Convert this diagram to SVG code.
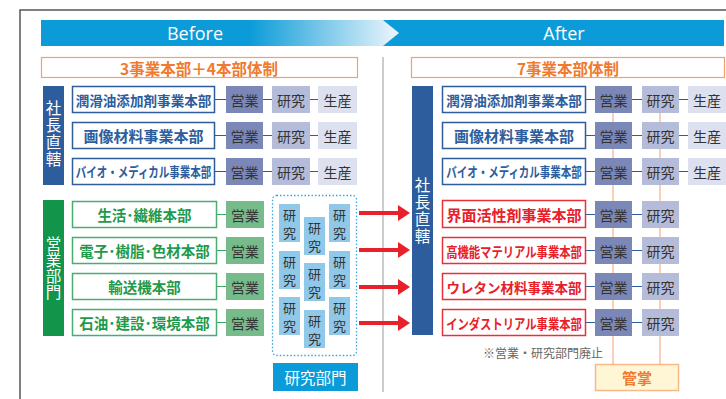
<svg xmlns="http://www.w3.org/2000/svg" width="726" height="399" viewBox="0 0 726 399">
<defs>
<linearGradient id="gb" gradientUnits="userSpaceOnUse" x1="41" y1="0" x2="399" y2="0">
<stop offset="0" stop-color="#0a9bd8"/>
<stop offset="0.58" stop-color="#0a9bd8"/>
<stop offset="1" stop-color="#eef6fc"/>
</linearGradient>
<marker id="ah" markerWidth="4" markerHeight="4" refX="0" refY="2" orient="auto" markerUnits="strokeWidth">
<path d="M0,0 L3,2 L0,4 Z" fill="#e8202a"/>
</marker>
<style>
text{font-family:"Noto Sans CJK JP","Noto Sans",sans-serif;}
.c{text-anchor:middle;dominant-baseline:central;}
.bt{fill:#2d5d9c;font-size:14px;font-weight:bold;}
.bb{fill:#fff;stroke:#2d5d9c;stroke-width:1.5;}
.gb{fill:#fff;stroke:#4aad70;stroke-width:1.5;}
.gt{fill:#1f9a4b;font-size:14.5px;font-weight:bold;}
.rb{fill:#fff;stroke:#e83038;stroke-width:1.5;}
.rt{fill:#e8202a;font-size:14px;font-weight:bold;}
.s1{fill:#7b87b6;}
.s2{fill:#b5bcda;}
.s3{fill:#dde0ee;}
.sg{fill:#77bb8a;}
.st{fill:#333;font-size:14px;}
.rs{fill:#90c8ea;}
.rst{fill:#333;font-size:13px;}
.vt{fill:#fff;font-size:15.5px;writing-mode:vertical-rl;text-orientation:upright;text-anchor:middle;}
.ln{stroke:#2d5d9c;stroke-width:1.2;fill:none;}
.lg{stroke:#3aa865;stroke-width:1.2;fill:none;}
.lo{stroke:#f8c0a0;stroke-width:1.5;fill:none;}
.ar{stroke:#e8202a;stroke-width:4;fill:none;}
.sub{fill:#f07a30;font-size:15.5px;font-weight:bold;}
.ban{fill:#fff;font-size:18px;font-family:"Open Sans","Noto Sans",sans-serif;}
</style>
</defs>
<rect width="726" height="399" fill="#fff"/>
<!-- frame -->
<path d="M20,399 V10 H726" fill="none" stroke="#555" stroke-width="1.5"/>
<!-- banners -->
<g id="banner-after">
<rect x="383" y="20" width="341" height="26" fill="#0a9bd8"/>
<text x="564" y="33" class="c ban">After</text>
</g>
<g id="banner-before">
<polygon points="41,20 383,20 399,33 383,46 41,46" fill="url(#gb)"/>
<text x="195" y="33" class="c ban">Before</text>
</g>
<g id="sub-before">
<rect x="41.5" y="57.5" width="316" height="20" fill="#fff" stroke="#f4a06a" stroke-width="1.2"/>
<text x="199" y="67.5" class="c sub">3事業本部＋4本部体制</text>
</g>
<g id="sub-after">
<rect x="411.5" y="57.5" width="313" height="20" fill="#fff" stroke="#f4a06a" stroke-width="1.2"/>
<text x="568" y="67.5" class="c sub">7事業本部体制</text>
</g>
<line x1="383" y1="57" x2="383" y2="392" stroke="#bbb" stroke-width="1.5"/>

<!-- connectors -->
<g id="connectors">
<path class="ln" d="M215,99.5 H226 M263,99.5 H272 M310,99.5 H318 M215,135.5 H226 M263,135.5 H272 M310,135.5 H318 M215,171.5 H226 M263,171.5 H272 M310,171.5 H318"/>
<path class="lg" d="M217,214.5 H226 M217,250.5 H226 M217,286.5 H226 M217,322.5 H226"/>
<path class="lo" d="M613,113 V364 M660,113 V364"/>
<path class="ln" d="M586,99.5 H595 M632,99.5 H642 M679,99.5 H688 M586,135.5 H595 M632,135.5 H642 M679,135.5 H688 M586,171.5 H595 M632,171.5 H642 M679,171.5 H688"/>
<path class="ln" d="M586,214.5 H595 M632,214.5 H642 M586,250.5 H595 M632,250.5 H642 M586,286.5 H595 M632,286.5 H642 M586,322.5 H595 M632,322.5 H642"/>
<path class="ar" d="M359,213 H398" marker-end="url(#ah)"/>
<path class="ar" d="M359,250 H398" marker-end="url(#ah)"/>
<path class="ar" d="M359,287 H398" marker-end="url(#ah)"/>
<path class="ar" d="M359,323 H398" marker-end="url(#ah)"/>
</g>

<!-- left vertical bars -->
<g id="bar-shacho-left">
<rect x="43" y="86" width="21" height="99" fill="#2d5d9c"/>
<text class="vt" x="53.5" y="134" style="letter-spacing:1.5px">社長直轄</text>
</g>
<g id="bar-eigyo-left">
<rect x="43" y="200" width="21" height="136" fill="#12944a"/>
<text class="vt" x="53.5" y="268" style="letter-spacing:0.5px">営業部門</text>
</g>

<!-- left top rows -->
<g id="L1">
<rect class="bb" x="72.5" y="86.5" width="142" height="26"/>
<text class="c bt" transform="translate(143.5,99.5) scale(0.97,1)" x="0" y="0">潤滑油添加剤事業本部</text>
<rect class="s1" x="226" y="86" width="37" height="27"/><text class="c st" x="244.5" y="99.5">営業</text>
<rect class="s2" x="272" y="86" width="38" height="27"/><text class="c st" x="291" y="99.5">研究</text>
<rect class="s3" x="318" y="86" width="39" height="27"/><text class="c st" x="337.5" y="99.5">生産</text>
</g>
<g id="L2">
<rect class="bb" x="72.5" y="122.5" width="142" height="26"/>
<text class="c bt" x="143.5" y="135.5" style="font-size:15px">画像材料事業本部</text>
<rect class="s1" x="226" y="122" width="37" height="27"/><text class="c st" x="244.5" y="135.5">営業</text>
<rect class="s2" x="272" y="122" width="38" height="27"/><text class="c st" x="291" y="135.5">研究</text>
<rect class="s3" x="318" y="122" width="39" height="27"/><text class="c st" x="337.5" y="135.5">生産</text>
</g>
<g id="L3">
<rect class="bb" x="72.5" y="158.5" width="142" height="26"/>
<text class="c bt" transform="translate(143.5,171.5) scale(0.75,1)" x="0" y="0">バイオ・メディカル事業本部</text>
<rect class="s1" x="226" y="158" width="37" height="27"/><text class="c st" x="244.5" y="171.5">営業</text>
<rect class="s2" x="272" y="158" width="38" height="27"/><text class="c st" x="291" y="171.5">研究</text>
<rect class="s3" x="318" y="158" width="39" height="27"/><text class="c st" x="337.5" y="171.5">生産</text>
</g>

<!-- left bottom rows -->
<g id="G1">
<rect class="gb" x="72.5" y="201.5" width="144" height="26"/>
<text class="c gt" x="144.5" y="214.5">生活･繊維本部</text>
<rect class="sg" x="226" y="201" width="38" height="27"/><text class="c st" x="245" y="214.5">営業</text>
</g>
<g id="G2">
<rect class="gb" x="72.5" y="237.5" width="144" height="26"/>
<text class="c gt" x="144.5" y="250.5">電子･樹脂･色材本部</text>
<rect class="sg" x="226" y="237" width="38" height="27"/><text class="c st" x="245" y="250.5">営業</text>
</g>
<g id="G3">
<rect class="gb" x="72.5" y="273.5" width="144" height="26"/>
<text class="c gt" x="144.5" y="286.5">輸送機本部</text>
<rect class="sg" x="226" y="273" width="38" height="27"/><text class="c st" x="245" y="286.5">営業</text>
</g>
<g id="G4">
<rect class="gb" x="72.5" y="309.5" width="144" height="26"/>
<text class="c gt" x="144.5" y="322.5">石油･建設･環境本部</text>
<rect class="sg" x="226" y="309" width="38" height="27"/><text class="c st" x="245" y="322.5">営業</text>
</g>

<!-- research dept -->
<g id="research">
<rect x="272.5" y="195.5" width="84" height="160" rx="4" fill="none" stroke="#3aa5dd" stroke-width="1.3" stroke-dasharray="1.5 2"/>
<rect class="rs" x="279" y="204" width="21" height="38"/><text class="c rst"><tspan x="289.5" y="214">研</tspan><tspan x="289.5" y="232">究</tspan></text>
<rect class="rs" x="279" y="251" width="21" height="38"/><text class="c rst"><tspan x="289.5" y="261">研</tspan><tspan x="289.5" y="279">究</tspan></text>
<rect class="rs" x="279" y="297" width="21" height="38"/><text class="c rst"><tspan x="289.5" y="307">研</tspan><tspan x="289.5" y="325">究</tspan></text>
<rect class="rs" x="304" y="217" width="21" height="38"/><text class="c rst"><tspan x="314.5" y="227">研</tspan><tspan x="314.5" y="245">究</tspan></text>
<rect class="rs" x="304" y="263" width="21" height="38"/><text class="c rst"><tspan x="314.5" y="273">研</tspan><tspan x="314.5" y="291">究</tspan></text>
<rect class="rs" x="304" y="310" width="21" height="38"/><text class="c rst"><tspan x="314.5" y="320">研</tspan><tspan x="314.5" y="338">究</tspan></text>
<rect class="rs" x="329" y="204" width="21" height="38"/><text class="c rst"><tspan x="339.5" y="214">研</tspan><tspan x="339.5" y="232">究</tspan></text>
<rect class="rs" x="329" y="251" width="21" height="38"/><text class="c rst"><tspan x="339.5" y="261">研</tspan><tspan x="339.5" y="279">究</tspan></text>
<rect class="rs" x="329" y="297" width="21" height="38"/><text class="c rst"><tspan x="339.5" y="307">研</tspan><tspan x="339.5" y="325">究</tspan></text>
</g>
<g id="research-label">
<rect x="273" y="363" width="85" height="28" fill="#0a9bd8"/>
<text class="c" x="315.5" y="377" fill="#fff" font-size="15.5">研究部門</text>
</g>

<!-- right bar -->
<g id="bar-shacho-right">
<rect x="412" y="86" width="21" height="249" fill="#2d5d9c"/>
<text class="vt" x="422.5" y="211" style="letter-spacing:1.5px">社長直轄</text>
</g>

<!-- right top rows -->
<g id="R1">
<rect class="bb" x="442.5" y="86.5" width="143" height="26"/>
<text class="c bt" transform="translate(514,99.5) scale(0.97,1)" x="0" y="0">潤滑油添加剤事業本部</text>
<rect class="s1" x="595" y="86" width="37" height="27"/><text class="c st" x="613.5" y="99.5">営業</text>
<rect class="s2" x="642" y="86" width="37" height="27"/><text class="c st" x="660.5" y="99.5">研究</text>
<rect class="s3" x="688" y="86" width="38" height="27"/><text class="c st" x="707" y="99.5">生産</text>
</g>
<g id="R2">
<rect class="bb" x="442.5" y="122.5" width="143" height="26"/>
<text class="c bt" x="514" y="135.5" style="font-size:15px">画像材料事業本部</text>
<rect class="s1" x="595" y="122" width="37" height="27"/><text class="c st" x="613.5" y="135.5">営業</text>
<rect class="s2" x="642" y="122" width="37" height="27"/><text class="c st" x="660.5" y="135.5">研究</text>
<rect class="s3" x="688" y="122" width="38" height="27"/><text class="c st" x="707" y="135.5">生産</text>
</g>
<g id="R3">
<rect class="bb" x="442.5" y="158.5" width="143" height="26"/>
<text class="c bt" transform="translate(514,171.5) scale(0.75,1)" x="0" y="0">バイオ・メディカル事業本部</text>
<rect class="s1" x="595" y="158" width="37" height="27"/><text class="c st" x="613.5" y="171.5">営業</text>
<rect class="s2" x="642" y="158" width="37" height="27"/><text class="c st" x="660.5" y="171.5">研究</text>
<rect class="s3" x="688" y="158" width="38" height="27"/><text class="c st" x="707" y="171.5">生産</text>
</g>
<!-- right bottom rows -->
<g id="R4">
<rect class="rb" x="442.5" y="200.5" width="143" height="27"/>
<text class="c rt" x="514" y="214.5" style="font-size:15px">界面活性剤事業本部</text>
<rect class="s1" x="595" y="201" width="37" height="27"/><text class="c st" x="613.5" y="214.5">営業</text>
<rect class="s2" x="642" y="201" width="37" height="27"/><text class="c st" x="660.5" y="214.5">研究</text>
</g>
<g id="R5">
<rect class="rb" x="442.5" y="237.5" width="143" height="26"/>
<text class="c rt" transform="translate(514,250.5) scale(0.81,1)" x="0" y="0">高機能マテリアル事業本部</text>
<rect class="s1" x="595" y="237" width="37" height="27"/><text class="c st" x="613.5" y="250.5">営業</text>
<rect class="s2" x="642" y="237" width="37" height="27"/><text class="c st" x="660.5" y="250.5">研究</text>
</g>
<g id="R6">
<rect class="rb" x="442.5" y="273.5" width="143" height="26"/>
<text class="c rt" x="514" y="286.5" style="font-size:13.5px">ウレタン材料事業本部</text>
<rect class="s1" x="595" y="273" width="37" height="27"/><text class="c st" x="613.5" y="286.5">営業</text>
<rect class="s2" x="642" y="273" width="37" height="27"/><text class="c st" x="660.5" y="286.5">研究</text>
</g>
<g id="R7">
<rect class="rb" x="442.5" y="309.5" width="143" height="26"/>
<text class="c rt" transform="translate(514,322.5) scale(0.81,1)" x="0" y="0">インダストリアル事業本部</text>
<rect class="s1" x="595" y="309" width="37" height="27"/><text class="c st" x="613.5" y="322.5">営業</text>
<rect class="s2" x="642" y="309" width="37" height="27"/><text class="c st" x="660.5" y="322.5">研究</text>
</g>
<text class="c" x="543" y="352" fill="#666" font-size="12">※営業・研究部門廃止</text>
<g id="kansho">
<rect x="595.5" y="364.5" width="83" height="26" fill="#fff6d6" stroke="#f8b88a" stroke-width="1.5"/>
<text class="c" x="637" y="377.5" fill="#f07a30" font-size="15" font-weight="bold">管掌</text>
</g>
</svg>
